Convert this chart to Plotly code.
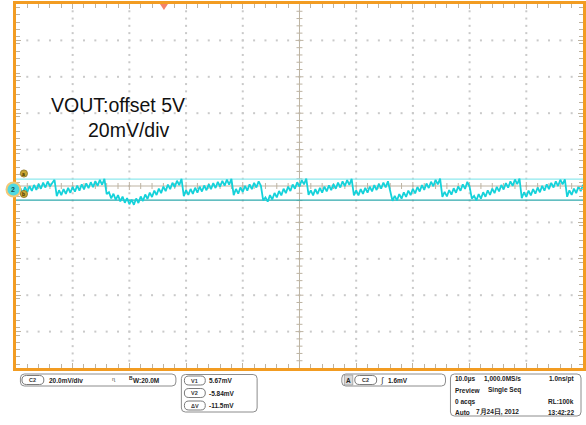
import plotly.graph_objects as go

W, H = 586, 425

# ---------------- data ----------------
# VOUT ripple (AC, mV relative to the channel-2 ground marker), one sample every 0.4 us
vout_mV = [
    0.0, -2.7, 0.6, -2.1, 1.3, -1.4, 1.9, -0.8, 2.5, -0.2,
    3.1, 0.4, 3.8, 1.1, 4.4, 1.7, 3.6, 5.3, -3.7, -0.4,
    -3.1, 0.2, -2.4, 0.9, -1.8, 1.5, -1.2, 2.1, -0.6, 2.8,
    0.1, 3.4, 0.7, 4.0, 1.3, 4.6, 2.0, 5.3, 2.6, 5.9,
    -2.5, -1.5, -4.9, -2.3, -5.7, -3.1, -6.5, -3.9, -7.3, -4.7,
    -8.1, -5.5, -8.4, -4.9, -7.4, -3.8, -6.3, -2.7, -5.2, -1.7,
    -4.1, -0.6, -3.0, 0.5, -2.0, 1.6, -0.9, 2.7, 0.2, 3.7,
    1.3, 4.8, 2.4, 5.9, -3.6, -0.3, -3.0, 0.3, -2.4, 1.0,
    -1.7, 1.6, -1.1, 2.2, -0.4, 2.9, 0.2, 3.5, 0.8, 4.2,
    1.5, 4.8, 2.1, 5.4, 2.7, 5.8, -3.1, 0.3, -2.3, 1.2,
    -1.4, 2.0, -0.6, 2.8, 0.2, 3.7, 1.1, 4.5, 2.0, -6.0,
    -4.3, -6.7, -3.1, -5.5, -1.9, -4.3, -0.8, -3.2, 0.4, -2.0,
    1.6, -0.8, 2.8, 0.4, 4.0, 1.6, 5.2, 2.8, 6.0, -3.0,
    -0.5, -3.2, 0.2, -2.5, 0.9, -1.7, 1.6, -1.0, 2.3, -0.3,
    3.0, 0.4, 3.8, 1.1, 4.5, 1.8, 5.2, 2.5, 5.9, -3.2,
    -0.5, -3.2, 0.2, -2.4, 0.9, -1.7, 1.6, -1.0, 2.4, -0.3,
    3.1, 0.5, 3.8, 1.2, 4.5, -1.5, -6.2, -3.5, -6.0, -2.5,
    -5.0, -1.6, -4.1, -0.6, -3.1, 0.4, -2.1, 1.4, -1.1, 2.4,
    -0.2, 3.3, 0.8, 4.3, 1.8, 5.3, 2.8, 6.0, -4.0, -1.3,
    -3.8, -0.3, -2.8, 0.7, -1.8, 1.7, -0.7, 2.8, 0.3, 4.2,
    1.5, -5.0, -3.5, -6.0, -2.5, -5.0, -1.5, -4.0, -0.5, -3.0,
    0.5, -2.0, 1.5, -1.0, 2.5, 0.0, 3.5, 1.0, 4.5, 2.0,
    5.5, 3.0, 6.0, -4.8, -1.5, -4.1, -0.6, -3.2, 0.2, -2.3,
    1.1, -1.5, 2.0, -0.6, 2.8, 0.2, 3.7, 1.1, 4.5, 1.9,
    5.4, 2.8, 5.6, -4.0, -0.5, -3.0, 0.5, -2.0, 1.6, -0.9,
    2.6,
]
sample_step_us = 0.4
time_us = [i * sample_step_us for i in range(len(vout_mV))]

cursor_names = ["V1", "V2", "ΔV"]
cursor_values = ["5.67mV", "-5.84mV", "-11.5mV"]
cursor_levels_mV = [5.67, -5.84]

channel_label = "C2"
vertical_scale = "20.0mV/div"
bandwidth = "W:20.0M"
trigger_level = "1.6mV"
timebase_rows = [
    ["10.0µs", "1,000.0MS/s", "1.0ns/pt"],
    ["Preview", "Single Seq", ""],
    ["0 acqs", "", "RL:100k"],
    ["Auto", "7月24日, 2012", "13:42:22"],
]
note_line1 = "VOUT:offset 5V"
note_line2 = "20mV/div"

# ---------------- scales ----------------
mv_per_div = 20.0
us_per_div = 10.0
center_mV = 1.93          # screen centre relative to the channel ground level
y_lo, y_hi = center_mV - 5 * mv_per_div, center_mV + 5 * mv_per_div
x_lo, x_hi = 0.0, 10 * us_per_div

PL, PR, PT, PB = 16, 585, 4, 368   # plot area in pixels
ux = (x_hi - x_lo) / (PR - PL)     # us per pixel
uy = (y_hi - y_lo) / (PB - PT)     # mV per pixel


def px(x):
    return x / W


def py(y):
    return 1 - y / H


ORANGE = "#f29c22"
TICK = "#bdb3a2"
DOT = "#c9c9c9"
CYAN = "#15d2da"

fig = go.Figure()

# grid dots
dx, dy = [], []
for k in range(-4, 5):
    if k == 0:
        continue
    yv = center_mV + k * mv_per_div
    for j in range(1, 50):
        dx.append(x_lo + j * us_per_div / 5)
        dy.append(yv)
for i in range(1, 10):
    if i == 5:
        continue
    xv = x_lo + i * us_per_div
    for m in range(-24, 25):
        dx.append(xv)
        dy.append(center_mV + m * mv_per_div / 5)
fig.add_trace(go.Scatter(x=dx, y=dy, mode="markers",
                         marker=dict(symbol="square", size=2, color=DOT),
                         hoverinfo="skip", showlegend=False))

# centre crosshair with ticks
cx = (x_lo + x_hi) / 2
lx, ly = [x_lo, x_hi, None, cx, cx, None], [center_mV, center_mV, None, y_lo, y_hi, None]
for j in range(1, 50):
    xv = x_lo + j * us_per_div / 5
    ln = 4 if j % 5 == 0 else 3
    lx += [xv, xv, None]
    ly += [center_mV - ln * uy, center_mV + ln * uy, None]
for m in range(-24, 25):
    yv = center_mV + m * mv_per_div / 5
    ln = 4 if m % 5 == 0 else 3
    lx += [cx - ln * ux, cx + ln * ux, None]
    ly += [yv, yv, None]
fig.add_trace(go.Scatter(x=lx, y=ly, mode="lines", line=dict(color=TICK, width=1),
                         hoverinfo="skip", showlegend=False))

# cursors
fig.add_trace(go.Scatter(x=[x_lo, x_hi], y=[cursor_levels_mV[0]] * 2, mode="lines",
                         line=dict(color="#8fe9ee", width=1.3), hoverinfo="skip", showlegend=False))
fig.add_trace(go.Scatter(x=[x_lo, x_hi], y=[cursor_levels_mV[1]] * 2, mode="lines",
                         line=dict(color="#2fa9ad", width=1.3), hoverinfo="skip", showlegend=False))

# waveform
fig.add_trace(go.Scatter(x=time_us, y=vout_mV, mode="lines",
                         line=dict(color=CYAN, width=1.8), showlegend=False))

shapes = []
annotations = []


def rrect(x0, y0, x1, y1, r, color="#8c8c8c", fill="white", width=1):
    p = (f"M {px(x0 + r)},{py(y0)} L {px(x1 - r)},{py(y0)} Q {px(x1)},{py(y0)} {px(x1)},{py(y0 + r)} "
         f"L {px(x1)},{py(y1 - r)} Q {px(x1)},{py(y1)} {px(x1 - r)},{py(y1)} "
         f"L {px(x0 + r)},{py(y1)} Q {px(x0)},{py(y1)} {px(x0)},{py(y1 - r)} "
         f"L {px(x0)},{py(y0 + r)} Q {px(x0)},{py(y0)} {px(x0 + r)},{py(y0)} Z")
    shapes.append(dict(type="path", path=p, xref="paper", yref="paper",
                       line=dict(color=color, width=width), fillcolor=fill, layer="above"))


def text(x, y, s, size=6.5, anchor="left", color="#222222", bold=True):
    annotations.append(dict(x=px(x), y=py(y), xref="paper", yref="paper", text=f"<b>{s}</b>" if bold else s,
                            showarrow=False, xanchor=anchor, yanchor="middle",
                            font=dict(family="Arial, Liberation Sans", size=size, color=color)))


def pill(x0, x1, yc, label):
    rrect(x0, yc - 4.5, x1, yc + 4.5, 4.5, color="#7a7a7a")
    text((x0 + x1) / 2, yc, label, size=5.5, anchor="center", color="#333333")


def circle(xc, yc, r, fill, line, lw=1):
    shapes.append(dict(type="circle", xref="paper", yref="paper",
                       x0=px(xc - r), x1=px(xc + r), y0=py(yc + r), y1=py(yc - r),
                       fillcolor=fill, line=dict(color=line, width=lw), layer="above"))


# trigger position marker at top
tx = PL + 26.1 / ux
shapes.append(dict(type="path", xref="paper", yref="paper", layer="above",
                   path=f"M {px(tx - 4)},{py(4)} L {px(tx + 4)},{py(4)} L {px(tx)},{py(10)} Z",
                   fillcolor="#f4836a", line=dict(width=0)))

# channel ground marker and cursor markers
ground_y = PT + (y_hi - 0) / uy
circle(13.5, ground_y, 7, "#4fd9e1", "#f3c878", 2)
text(13.5, ground_y, "2", size=7, anchor="center", color="#1a4a50")
circle(24, 173.5, 3.6, "#c9a633", "#8a7020", 0.8)
text(24, 173.5, "a", size=5, anchor="center", color="#3a2c00")
circle(24, 194, 3.6, "#c9a633", "#8a7020", 0.8)
text(24, 194, "b", size=5, anchor="center", color="#3a2c00")

# note text
text(49, 105, note_line1, size=19.5, color="#111111", bold=False)
text(86, 130, note_line2, size=19.5, color="#111111", bold=False)

# status bar: channel box
rrect(20.5, 374, 176.5, 386, 4)
pill(22, 44, 380, channel_label)
text(47, 380, vertical_scale)
text(110, 380, "ᶯ", size=8, color="#444444", bold=False)
text(127, 378, "B", size=5)
text(131, 380, bandwidth)

# cursor box
rrect(182, 374.5, 258, 412, 4)
for r, (nm, val) in enumerate(zip(cursor_names, cursor_values)):
    yc = 380.5 + r * 12.5
    pill(185, 206, yc, nm)
    text(208, yc, val)

# trigger box
rrect(343, 374, 447, 386, 4)
shapes.append(dict(type="rect", xref="paper", yref="paper", x0=px(345.5), x1=px(354), y0=py(385), y1=py(375),
                   fillcolor="#d9d9d9", line=dict(color="#9a9a9a", width=0.8), layer="above"))
text(349.7, 380, "A", size=6.5, anchor="center")
pill(356, 378, 380, channel_label)
text(379, 380, "∫", size=8, color="#333333", bold=False)
text(387, 380, trigger_level)

# timebase box
rrect(452, 374, 583, 416, 4)
row_y = [378.5, 390, 401.5, 412]
mid_x = [484, 488, 484, 476]
for r, row in enumerate(timebase_rows):
    if row[0]:
        text(455, row_y[r], row[0])
    if row[1]:
        text(mid_x[r], row_y[r], row[1])
    if row[2]:
        text(578, row_y[r], row[2], anchor="right")

fig.update_layout(
    width=W, height=H,
    margin=dict(l=0, r=0, t=0, b=0),
    paper_bgcolor="white", plot_bgcolor="white",
    showlegend=False,
    shapes=shapes, annotations=annotations,
    xaxis=dict(domain=[px(PL), px(PR)], range=[x_lo, x_hi], showgrid=False, zeroline=False,
               showticklabels=False, showline=True, linecolor=ORANGE, linewidth=3, mirror="allticks",
               ticks="inside", tick0=x_lo, dtick=us_per_div, ticklen=5, tickcolor=TICK, tickwidth=1,
               minor=dict(ticks="inside", dtick=us_per_div / 5, ticklen=4, tickcolor=TICK, tickwidth=1,
                          showgrid=False)),
    yaxis=dict(domain=[py(PB), py(PT)], range=[y_lo, y_hi], showgrid=False, zeroline=False,
               showticklabels=False, showline=True, linecolor=ORANGE, linewidth=3, mirror="allticks",
               ticks="inside", tick0=y_lo, dtick=mv_per_div, ticklen=5, tickcolor=TICK, tickwidth=1,
               minor=dict(ticks="inside", dtick=mv_per_div / 5, ticklen=4, tickcolor=TICK, tickwidth=1,
                          showgrid=False)),
)

fig.write_html("out.html", config={"displayModeBar": False},
               post_script="document.body.style.margin='0';document.body.style.overflow='hidden';")
